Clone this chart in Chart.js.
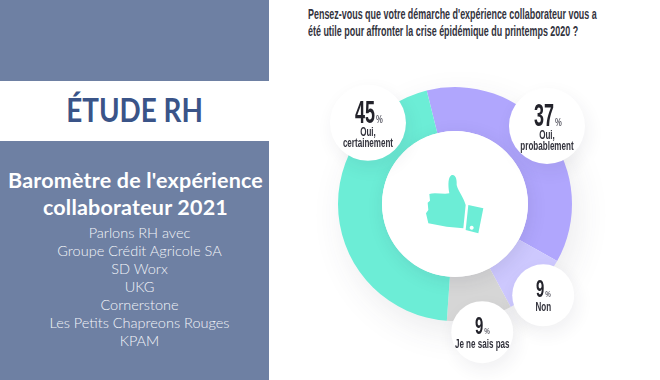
<!DOCTYPE html>
<html>
<head>
<meta charset="utf-8">
<style>
    html, body { margin: 0; padding: 0; background: #fff; }
    #page { position: relative; width: 660px; height: 380px; overflow: hidden; font-family: "Lato", sans-serif; }
    #panel { position: absolute; left: 0; top: 0; width: 269px; height: 380px; background: #6e80a3; }
    #band { position: absolute; left: 0; top: 81px; width: 269px; height: 60px; background: #fff; text-align: center;
        color: #3a5488; font-weight: 700; font-size: 32px; line-height: 58px; }
    #band span { display: inline-block; transform: scaleX(0.87); }
    #heading { position: absolute; left: 0; top: 167px; width: 271px; text-align: center; color: #fff; font-weight: 700; font-size: 21.5px; line-height: 27px; letter-spacing: 0.2px; white-space: nowrap; }
    #partners { position: absolute; left: 0; top: 224px; width: 279px; text-align: center; color: #f3f5f9; font-weight: 300; font-size: 14.5px; line-height: 18px; white-space: nowrap; }
    .question { position: absolute; left: 308px; color: #33333d; font-family: "Liberation Sans", sans-serif; font-weight: 700;
        font-size: 15px; line-height: 18px; white-space: nowrap; transform-origin: left top; }
    canvas { position: absolute; left: 0; top: 0; }
    #thumb { position: absolute; left: 400px; top: 160px; }
</style>
</head>
<body>
<div id="page">
    <div id="panel"></div>
    <div id="band"><span>ÉTUDE RH</span></div>
    <div id="heading"></div>
    <div id="partners"></div>
    <div class="question" id="q1" style="top:5px"></div>
    <div class="question" id="q2" style="top:22px"></div>
    <canvas id="chart" width="660" height="380"></canvas>
    <svg id="thumb" width="200" height="210" viewBox="0 0 600 630">
        <path fill="#6cedd6" d="M148,100 C143,72 145,50 155,45 C168,42 171,60 170,75 C175,95 190,110 197,135 L190,205 L140,200 L85,190 L78,160 L85,150 L83,128 L90,122 L88,102 C105,96 130,104 148,100 Z"/>
        <path fill="#6cedd6" fill-rule="evenodd" d="M205,135 L250,145 L235,220 L197,210 Z M215,197 a6,6 0 1,0 0.1,0 Z"/>
    </svg>
</div>

<script src="https://cdn.jsdelivr.net/npm/chart.js@4/dist/chart.umd.min.js"></script>
<script>
// values
const categories = ['Oui, probablement', 'Non', 'Je ne sais pas', 'Oui, certainement'];
const shares = [37, 9, 9, 45];
const sliceColors = ['#b0a6fd', '#cdc8fe', '#d6d6d6', '#6cedd6'];

const headingLines = ["Baromètre de l'expérience", 'collaborateur 2021'];
const partnerLines = ['Parlons RH avec', 'Groupe Crédit Agricole SA', 'SD Worx', 'UKG', 'Cornerstone', 'Les Petits Chapreons Rouges', 'KPAM'];
const questionLines = ["Pensez-vous que votre démarche d'expérience collaborateur vous a", 'été utile pour affronter la crise épidémique du printemps 2020 ?'];

// bubble placement around the doughnut centre: [angle from top in degrees, distance, bubble radius]
const bubbleSpots = [[49.7, 120.6, 38], [136, 127, 31], [168, 131, 31], [-47, 119, 38]];
// how each bubble caption breaks over lines
const captionLines = [['Oui,', 'probablement'], ['Non'], ['Je ne sais pas'], ['Oui,', 'certainement']];

document.getElementById('heading').innerHTML = headingLines.join('<br>');
document.getElementById('partners').innerHTML = partnerLines.join('<br>');

// no condensed font installed, so squeeze the question to its width
const q1 = document.getElementById('q1');
const q2 = document.getElementById('q2');
q1.textContent = questionLines[0];
q2.textContent = questionLines[1];
const questionScale = 289 / q1.offsetWidth;
q1.style.transform = 'scaleX(' + questionScale + ')';
q2.style.transform = 'scaleX(' + questionScale + ')';

const condensed = '"Liberation Sans", sans-serif';

function squeezedText(ctx, text, x, y, font, color, squeeze, align) {
    ctx.save();
    ctx.font = font;
    ctx.fillStyle = color;
    ctx.textAlign = align || 'center';
    ctx.textBaseline = 'alphabetic';
    ctx.translate(x, y);
    ctx.scale(squeeze, 1);
    ctx.fillText(text, 0, 0);
    ctx.restore();
}

const decorations = {
    id: 'decorations',
    beforeDatasetsDraw(chart) {
        const arc = chart.getDatasetMeta(0).data[0];
        const ctx = chart.ctx;
        // soft shadow under the ring
        ctx.save();
        ctx.shadowColor = 'rgba(60,60,80,0.10)';
        ctx.shadowBlur = 34;
        ctx.shadowOffsetX = 6;
        ctx.shadowOffsetY = 12;
        ctx.fillStyle = '#fff';
        ctx.beginPath();
        ctx.arc(arc.x, arc.y, arc.outerRadius - 1, 0, Math.PI * 2);
        ctx.fill();
        ctx.restore();
    },
    afterDatasetsDraw(chart) {
        const arc = chart.getDatasetMeta(0).data[0];
        const ctx = chart.ctx;

        ctx.save();
        ctx.shadowColor = 'rgba(40,40,70,0.10)';
        ctx.shadowBlur = 18;
        ctx.shadowOffsetX = 2;
        ctx.shadowOffsetY = 4;
        ctx.fillStyle = '#fff';
        ctx.beginPath();
        ctx.arc(arc.x, arc.y, arc.innerRadius, 0, Math.PI * 2);
        ctx.fill();
        ctx.restore();

        bubbleSpots.forEach((spot, i) => {
            const a = spot[0] * Math.PI / 180;
            const x = arc.x + Math.sin(a) * spot[1];
            const y = arc.y - Math.cos(a) * spot[1];
            const large = spot[2] > 35;

            ctx.save();
            ctx.shadowColor = 'rgba(40,40,70,0.07)';
            ctx.shadowBlur = 18;
            ctx.shadowOffsetX = 3;
            ctx.shadowOffsetY = 7;
            ctx.fillStyle = '#fff';
            ctx.beginPath();
            ctx.arc(x, y, spot[2], 0, Math.PI * 2);
            ctx.fill();
            ctx.restore();

            const valueFont = 'bold ' + (large ? 31 : 24) + 'px ' + condensed;
            const value = String(shares[i]);
            const squeeze = large ? 0.58 : 0.62;
            ctx.font = valueFont;
            const w = ctx.measureText(value).width * squeeze;
            const valueX = x - 3;
            const valueY = y + (large ? 0 : 2);
            squeezedText(ctx, value, valueX, valueY, valueFont, '#23232b', squeeze);
            squeezedText(ctx, '%', valueX + w / 2 + 1, valueY, 'bold ' + (large ? 11 : 9) + 'px ' + condensed, '#666670', 0.7, 'left');

            let lineY = y + (large ? 13 : 16);
            captionLines[i].forEach(line => {
                squeezedText(ctx, line, x, lineY, 'bold 13px ' + condensed, '#33333d', 0.62);
                lineY += 11;
            });
        });
    }
};

new Chart(document.getElementById('chart').getContext('2d'), {
    type: 'doughnut',
    data: {
        labels: categories,
        datasets: [{
            data: shares,
            backgroundColor: sliceColors,
            borderWidth: 0
        }]
    },
    options: {
        responsive: false,
        animation: false,
        rotation: -14,
        cutout: '62.4%',
        layout: { padding: { left: 338, right: 88, top: 87, bottom: 59 } },
        plugins: {
            legend: { display: false },
            tooltip: { enabled: false }
        }
    },
    plugins: [decorations]
});
</script>
</body>
</html>
